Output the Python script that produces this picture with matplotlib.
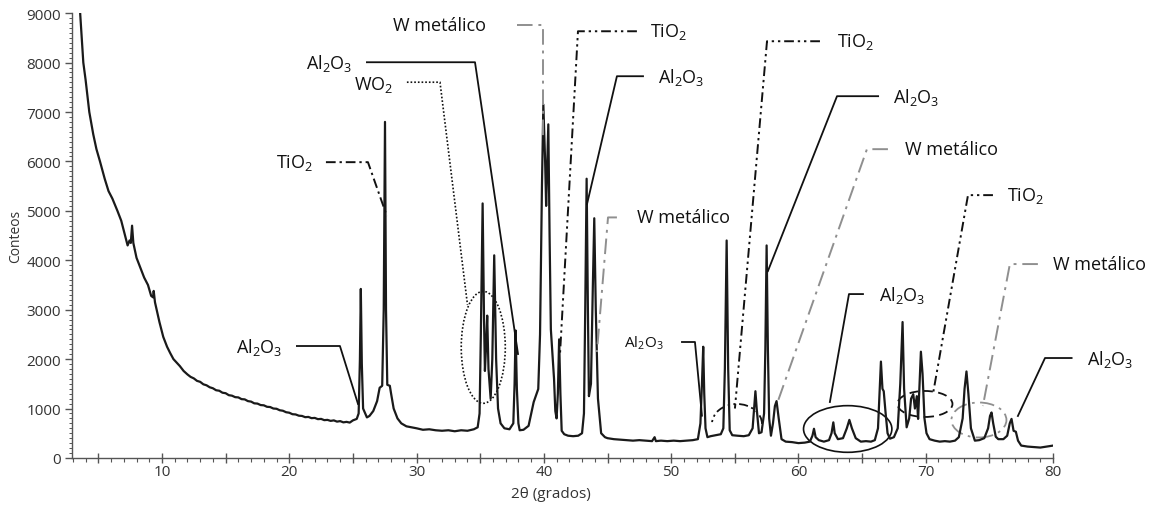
# coding: utf-8
import matplotlib
matplotlib.use("Agg")
import matplotlib.pyplot as plt
from matplotlib.patches import Ellipse, Arc

plt.rcParams["font.family"] = ["Open Sans", "DejaVu Sans"]

# difractograma: 2theta (grados) y conteos
two_theta = [
    3.56, 3.7, 3.82, 4.0, 4.29, 4.6, 4.85, 5.13, 5.5, 5.8, 6.1, 6.5, 6.8, 7.1, 7.3,
    7.45, 7.55, 7.65, 7.75, 8.0, 8.3, 8.6, 8.9, 9.15, 9.3, 9.35, 9.45, 9.58, 9.8,
    10.1, 10.4, 10.65, 10.9, 11.15, 11.4, 11.7, 12.0, 12.25, 12.5, 12.75, 13.0,
    13.25, 13.5, 13.75, 14.0, 14.25, 14.5, 14.75, 15.0, 15.25, 15.5, 15.75, 16.0,
    16.25, 16.5, 16.75, 17.0, 17.25, 17.5, 17.75, 18.0, 18.25, 18.5, 18.75, 19.0,
    19.25, 19.5, 19.75, 20.0, 20.25, 20.5, 20.75, 21.0, 21.25, 21.5, 21.75, 22.0,
    22.25, 22.5, 22.75, 23.0, 23.25, 23.5, 23.75, 24.0, 24.25, 24.5, 24.75, 25.0,
    25.3, 25.45, 25.55, 25.62, 25.7, 25.8, 26.0,
    26.1, 26.3, 26.6, 26.9, 27.1, 27.3, 27.42, 27.52, 27.6, 27.7, 27.9, 28.0,
    28.2, 28.5, 28.8, 29.2, 29.6, 30.0, 30.5, 31.0, 31.5, 32.0, 32.5, 33.0, 33.5,
    34.0, 34.5, 34.8, 34.95, 35.05, 35.19, 35.3, 35.37, 35.45, 35.55, 35.65,
    35.82, 35.95, 36.1, 36.25, 36.4, 36.6, 36.9, 37.3, 37.6, 37.7, 37.78, 37.88,
    38.0, 38.1, 38.4, 38.8, 39.2, 39.56, 39.7, 39.85, 39.96, 40.1, 40.18, 40.27,
    40.35, 40.45, 40.55, 40.65, 40.8, 40.9, 41.0, 41.1, 41.2, 41.3, 41.4, 41.6,
    41.9, 42.3, 42.7, 43.0, 43.15, 43.25, 43.36, 43.46, 43.54, 43.7, 43.85, 43.96,
    44.08, 44.25, 44.5, 44.8, 45.0, 45.5, 46.0, 46.5, 47.0, 47.5, 48.0, 48.5,
    48.7, 48.8, 49.2, 49.7, 50.2, 50.7, 51.2, 51.7, 52.1, 52.3, 52.42, 52.52,
    52.6, 52.7, 52.85, 53.1, 53.5, 53.9, 54.1, 54.22, 54.36, 54.48, 54.6, 54.8,
    55.2, 55.7, 56.1, 56.4, 56.55, 56.62, 56.72, 56.9, 57.1, 57.3, 57.4, 57.5,
    57.6, 57.7, 57.84, 58.0, 58.15, 58.28, 58.45, 58.67, 59.0, 59.5, 60.0, 60.5,
    60.9, 61.1, 61.22, 61.35, 61.6, 62.0, 62.4, 62.6, 62.74, 62.85, 63.1, 63.5,
    63.8, 64.0, 64.2, 64.5, 64.9, 65.3, 65.7, 66.0, 66.25, 66.4, 66.48, 66.6,
    66.7, 66.85, 67.0, 67.19, 67.5, 67.8, 68.0, 68.18, 68.3, 68.5, 68.7, 68.85,
    69.02, 69.15, 69.3, 69.4, 69.5, 69.62, 69.75, 69.9, 70.06, 70.3, 70.7, 71.1,
    71.5, 71.9, 72.3, 72.6, 72.9, 73.05, 73.2, 73.35, 73.55, 73.86, 74.2, 74.6,
    74.9, 75.05, 75.17, 75.3, 75.5, 75.7, 76.1, 76.4, 76.6, 76.74, 76.9, 77.08,
    77.25, 77.5, 78.0, 78.5, 79.0, 79.5, 80.0,
]
conteos = [
    9050, 8500, 8000, 7650, 7000, 6550, 6250, 6000, 5650, 5400, 5250, 5000, 4800,
    4500, 4300, 4400, 4350, 4700, 4350, 4050, 3850, 3650, 3500, 3280, 3250, 3380,
    3150, 3000, 2750, 2450, 2250, 2120, 2000, 1930, 1860, 1760, 1690, 1640, 1610,
    1560, 1540, 1490, 1470, 1430, 1410, 1370, 1360, 1320, 1310, 1270, 1260, 1230,
    1225, 1190, 1185, 1150, 1140, 1105, 1100, 1070, 1065, 1035, 1030, 1000, 995,
    965, 955, 925, 915, 885, 880, 855, 850, 825, 830, 805, 810, 785, 790, 765, 770,
    750, 760, 735, 745, 720, 730, 715, 760,
    790, 900, 2000, 3420, 1900, 1000, 880, 820,
    850, 950, 1150, 1420, 1460, 3000, 6800, 3000, 1480, 1460, 1300, 1000, 800,
    700, 640, 620, 600, 570, 580, 560, 550, 560, 540, 560, 550, 580, 620, 900,
    2500, 5150, 2800, 1760, 2200, 2880, 1800, 1200, 2000, 4100, 2000, 1000, 700,
    600, 580, 700, 1500, 2580, 1400, 700, 560, 570, 650, 1130, 1395, 2500, 5500,
    7150, 6000, 5100, 6000, 6750, 4500, 2600, 2200, 1600, 950, 800, 1300, 2400,
    1300, 550, 480, 450, 440, 450, 500, 900, 3000, 5650, 3000, 1250, 1500, 3500,
    4850, 3000, 1200, 500, 420, 400, 380, 370, 360, 350, 360, 350, 340, 420, 340,
    350, 340, 350, 340, 350, 360, 380, 700, 1500, 2250, 1300, 600, 420, 440, 460,
    480, 600, 1800, 4400, 1800, 560, 460, 450, 440, 460, 600, 1100, 1350, 1000,
    500, 520, 900, 2200, 4300, 2200, 800, 450, 700, 1050, 1150, 800, 380, 330,
    320, 300, 310, 330, 450, 590, 420, 360, 330, 360, 500, 720, 500, 380, 400,
    600, 770, 600, 400, 330, 340, 330, 360, 600, 1500, 1950, 1400, 1350, 900, 500,
    390, 420, 600, 1500, 2750, 1400, 620, 800, 1200, 1290, 1000, 1250, 790, 1400,
    2150, 1700, 800, 500, 380, 350, 330, 340, 330, 350, 420, 800, 1400, 1750, 1300,
    600, 350, 360, 400, 600, 850, 920, 700, 430, 380, 380, 450, 700, 790, 550, 530,
    350, 250, 230, 220, 210, 230, 250,
]

# etiquetas de fases: texto, posicion del texto, alineacion, guia, estilo
fases = [
    ("al", (19.5, 2265), "right", [(20.6, 2265), (23.98, 2265), (25.4, 1092)], "solida"),
    ("ti", (21.86, 5985), "right", [(22.88, 5985), (26.18, 5985), (27.67, 4893)], "rayapunto"),
    ("al", (25.0, 8007), "right", [(26.1, 8007), (34.59, 8007), (37.97, 2103)], "solida"),
    ("wo", (28.15, 7560), "right", [(29.24, 7603), (31.84, 7603), (34.0, 3100)], "punteada"),
    ("w", (35.45, 8755), "right", [(37.89, 8755), (39.93, 8755), (39.93, 6450)], "gris"),
    ("ti", (48.33, 8634), "left", [(47.31, 8634), (42.68, 8634), (41.26, 2062)], "rayapuntos"),
    ("al", (48.96, 7724), "left", [(47.79, 7724), (45.74, 7724), (43.39, 5136)], "solida"),
    ("w", (47.31, 4867), "left", [(45.74, 4867), (45.04, 4867), (44.17, 2143)], "gris"),
    ("al_p", (49.43, 2346), "right", [(50.85, 2346), (51.87, 2346), (52.42, 855)], "solida"),
    ("ti", (63.03, 8432), "left", [(61.69, 8432), (57.53, 8432), (55.01, 1000)], "rayapuntos"),
    ("al", (67.42, 7320), "left", [(66.26, 7320), (63.03, 7320), (57.6, 3781)], "solida"),
    ("w", (68.37, 6248), "left", [(67.03, 6248), (65.38, 6248), (58.31, 1092)], "gris"),
    ("al", (66.33, 3316), "left", [(65.07, 3316), (63.97, 3316), (62.47, 1132)], "solida"),
    ("ti", (76.38, 5318), "left", [(75.28, 5318), (73.32, 5318), (70.57, 1294)], "rayapuntos"),
    ("w", (80.0, 3923), "left", [(78.81, 3923), (76.61, 3923), (74.49, 1051)], "gris"),
    ("al", (82.67, 2022), "left", [(81.46, 2022), (79.37, 2022), (77.24, 849)], "solida"),
]

textos = {
    "al": r"Al$_\mathregular{2}$O$_\mathregular{3}$",
    "al_p": r"Al$_\mathregular{2}$O$_\mathregular{3}$",
    "ti": r"TiO$_\mathregular{2}$",
    "wo": r"WO$_\mathregular{2}$",
    "w": "W metálico",
}

estilos = {
    "solida": dict(color="#111111", ls="-", lw=1.3),
    "rayapunto": dict(color="#111111", ls=(0, (5, 2, 1.2, 2)), lw=1.4),
    "rayapuntos": dict(color="#111111", ls=(0, (5, 2, 1.2, 2, 1.2, 2)), lw=1.4),
    "punteada": dict(color="#111111", ls=(0, (1, 1.2)), lw=1.2),
    "gris": dict(color="#8f8f8f", ls=(0, (8, 3, 1.5, 3)), lw=1.4),
}

marcas_x = [5, 10, 15, 20, 25, 30, 35, 40, 45, 50, 55, 60, 65, 70, 75, 80]
etiquetas_x = ["" if m % 10 else str(m) for m in marcas_x]

fig = plt.figure(figsize=(11.61, 5.06), dpi=100)
ax = fig.add_axes([0.062, 0.093, 0.845, 0.879])

ax.plot(two_theta, conteos, color="#1a1a1a", lw=1.6)

for clave, (tx, ty), ha, guia, estilo in fases:
    xs = [p[0] for p in guia]
    ys = [p[1] for p in guia]
    ax.plot(xs, ys, clip_on=False, **estilos[estilo])
    size = 11 if clave == "al_p" else 13
    ax.text(tx, ty, textos[clave], ha=ha, va="center", fontsize=size, color="#111111")

# zonas marcadas con elipses
ax.add_patch(Ellipse((35.24, 2238), 3.46, 2265, fill=False, ec="#111111",
                     ls=(0, (1, 1.2)), lw=1.2))
ax.add_patch(Ellipse((63.87, 586), 6.94, 944, fill=False, ec="#111111", lw=1.2))
ax.add_patch(Arc((55.17, 687), 3.93, 809, theta1=30, theta2=190, ec="#111111",
                 ls=(0, (5, 2, 1.2, 2, 1.2, 2)), lw=1.3))
ax.add_patch(Ellipse((69.94, 1092), 4.32, 526, fill=False, ec="#111111",
                     ls=(0, (5, 3)), lw=1.3))
ax.add_patch(Ellipse((74.18, 768), 4.32, 708, fill=False, ec="#8f8f8f",
                     ls=(0, (8, 3, 1.5, 3)), lw=1.3))

ax.set_xlim(2.93, 80)
ax.set_ylim(0, 9000)
ax.set_xticks(marcas_x)
ax.set_xticklabels(etiquetas_x)
ax.set_xticks(range(3, 81), minor=True)
ax.set_yticks(range(0, 9001, 1000))
ax.set_yticks(range(0, 9001, 100), minor=True)

ax.spines["top"].set_visible(False)
ax.spines["right"].set_visible(False)
for lado in ["left", "bottom"]:
    ax.spines[lado].set_color("#555555")
    ax.spines[lado].set_linewidth(1.0)

ax.tick_params(axis="x", which="major", direction="inout", length=7, width=1,
               color="#555555", labelsize=11, labelcolor="#333333", pad=1)
ax.tick_params(axis="x", which="minor", direction="out", length=3, width=0.8,
               color="#555555")
ax.tick_params(axis="y", which="major", direction="out", length=5, width=1,
               color="#555555", labelsize=11, labelcolor="#333333", pad=3)
ax.tick_params(axis="y", which="minor", direction="out", length=2.5, width=0.7,
               color="#555555")

ax.set_xlabel("2θ (grados)", fontsize=11, color="#333333")
ax.xaxis.set_label_coords(0.488, -0.062)
ax.set_ylabel("Conteos", fontsize=10, color="#333333", labelpad=2)

fig.savefig("out.png", dpi=100)
